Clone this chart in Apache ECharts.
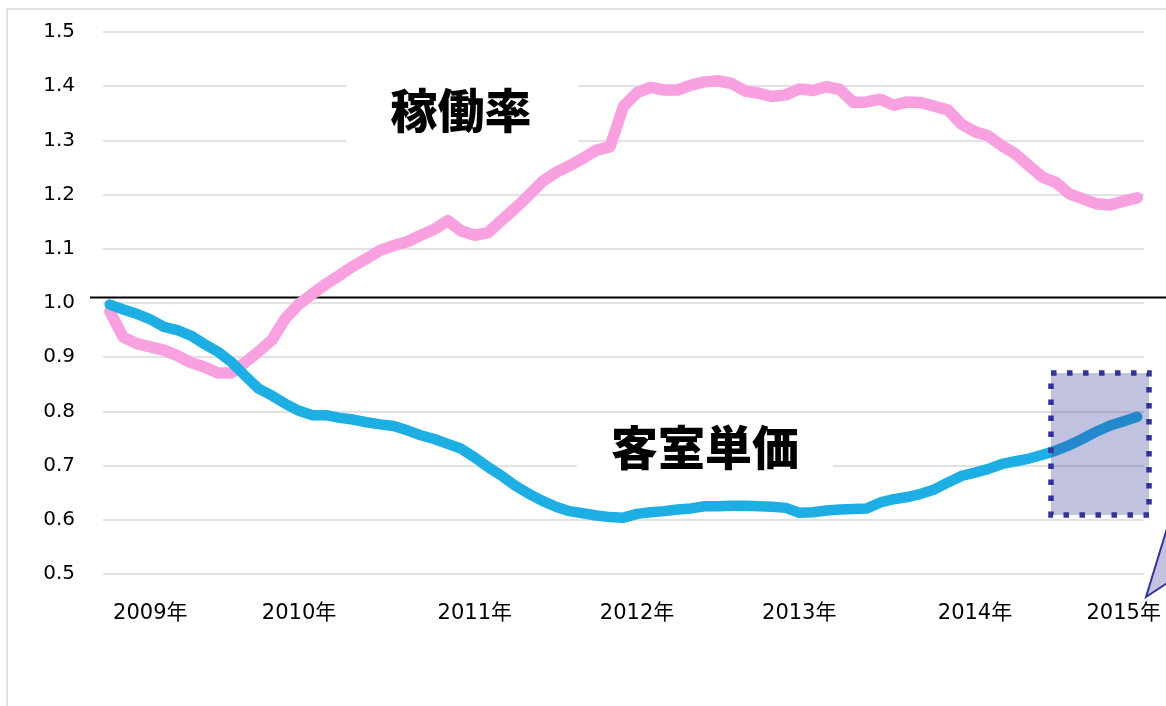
<!DOCTYPE html>
<html>
<head>
<meta charset="utf-8">
<style>
  html, body { margin: 0; padding: 0; background: #fff; }
  #chart { width: 1166px; height: 706px; }
</style>
<script src="https://cdn.jsdelivr.net/npm/echarts@6/dist/echarts.min.js"></script>
</head>
<body>
<div id="chart"></div>
<script>
// monthly categories, Oct 2008 .. Feb 2015
const months = [
  '2008/10', '2008/11', '2008/12',
  '2009/01', '2009/02', '2009/03', '2009/04', '2009/05', '2009/06', '2009/07', '2009/08', '2009/09', '2009/10', '2009/11', '2009/12',
  '2010/01', '2010/02', '2010/03', '2010/04', '2010/05', '2010/06', '2010/07', '2010/08', '2010/09', '2010/10', '2010/11', '2010/12',
  '2011/01', '2011/02', '2011/03', '2011/04', '2011/05', '2011/06', '2011/07', '2011/08', '2011/09', '2011/10', '2011/11', '2011/12',
  '2012/01', '2012/02', '2012/03', '2012/04', '2012/05', '2012/06', '2012/07', '2012/08', '2012/09', '2012/10', '2012/11', '2012/12',
  '2013/01', '2013/02', '2013/03', '2013/04', '2013/05', '2013/06', '2013/07', '2013/08', '2013/09', '2013/10', '2013/11', '2013/12',
  '2014/01', '2014/02', '2014/03', '2014/04', '2014/05', '2014/06', '2014/07', '2014/08', '2014/09', '2014/10', '2014/11', '2014/12',
  '2015/01', '2015/02'
]

// 稼働率 (occupancy index)
const occupancy = [
  0.984, 0.937, 0.925,
  0.919, 0.913, 0.903, 0.890, 0.882, 0.871, 0.871, 0.890, 0.910, 0.932, 0.972, 0.998,
  1.017, 1.035, 1.051, 1.068, 1.082, 1.097, 1.106, 1.113, 1.125, 1.136, 1.152, 1.133,
  1.125, 1.130, 1.153, 1.175, 1.199, 1.224, 1.241, 1.253, 1.267, 1.282, 1.288, 1.363,
  1.388, 1.398, 1.393, 1.393, 1.402, 1.408, 1.410, 1.405, 1.391, 1.387, 1.381, 1.384,
  1.395, 1.392, 1.399, 1.394, 1.370, 1.371, 1.376, 1.365, 1.371, 1.370, 1.363, 1.356,
  1.330, 1.316, 1.308, 1.290, 1.275, 1.253, 1.232, 1.222, 1.201, 1.192, 1.183, 1.181,
  1.188, 1.194
]

// 客室単価 (room rate index)
const roomRate = [
  0.997, 0.988, 0.980,
  0.970, 0.956, 0.950, 0.940, 0.924, 0.910, 0.891, 0.866, 0.842, 0.829, 0.814, 0.801,
  0.793, 0.793, 0.788, 0.785, 0.780, 0.776, 0.773, 0.765, 0.756, 0.749, 0.740, 0.731,
  0.715, 0.697, 0.681, 0.663, 0.648, 0.635, 0.624, 0.616, 0.612, 0.608, 0.605, 0.604,
  0.611, 0.614, 0.616, 0.619, 0.621, 0.625, 0.625, 0.626, 0.626, 0.625, 0.624, 0.622,
  0.613, 0.614, 0.617, 0.619, 0.620, 0.621, 0.632, 0.638, 0.642, 0.648, 0.656, 0.669,
  0.681, 0.687, 0.694, 0.703, 0.708, 0.713, 0.720, 0.728, 0.738, 0.750, 0.763, 0.774,
  0.782, 0.790
]

// year labels on the x axis and the month each one sits under
const yearLabels = ['2009年', '2010年', '2011年', '2012年', '2013年', '2014年', '2015年']
const yearLabelMonths = ['2009/01', '2009/12', '2011/01', '2012/01', '2013/01', '2014/02', '2015/01']

const baseLevel = 1.01

const chart = echarts.init(document.getElementById('chart'))

const option = {
  backgroundColor: '#fff',
  animation: false,
  grid: { left: 103, right: 22, top: 32, bottom: 132, outerBoundsMode: 'none', containLabel: false },
  xAxis: {
    type: 'category',
    data: months,
    boundaryGap: true,
    axisLine: { show: false },
    axisTick: { show: false },
    splitLine: { show: false },
    axisLabel: {
      interval: (i, v) => yearLabelMonths.includes(v),
      formatter: v => yearLabels[yearLabelMonths.indexOf(v)] || '',
      margin: 29,
      fontSize: 21,
      color: '#000',
      fontFamily: '"DejaVu Sans", "Noto Sans CJK JP", sans-serif'
    }
  },
  yAxis: {
    type: 'value',
    min: 0.5,
    max: 1.5,
    interval: 0.1,
    axisLine: { show: false },
    axisTick: { show: false },
    splitLine: { lineStyle: { color: '#d9d9d9', width: 1.5 } },
    axisLabel: {
      formatter: v => v.toFixed(1),
      margin: 28,
      fontSize: 20,
      color: '#000',
      fontFamily: '"DejaVu Sans", sans-serif'
    }
  },
  series: [
    {
      name: '稼働率',
      type: 'line',
      data: occupancy,
      showSymbol: false,
      z: 3,
      lineStyle: { color: '#f9a0e1', width: 11.5, cap: 'round', join: 'round' }
    },
    {
      name: '客室単価',
      type: 'line',
      data: roomRate,
      showSymbol: false,
      z: 4,
      lineStyle: { color: '#1daee3', width: 10.5, cap: 'round', join: 'round' }
    }
  ]
}
chart.setOption(option)

// annotations: frame, base line, label boxes, highlight box, callout tail
const baseY = chart.convertToPixel({ yAxisIndex: 0 }, baseLevel)

chart.setOption({
  graphic: [
    {
      type: 'rect', z: 0, silent: true,
      shape: { x: 7, y: 9, width: 1300, height: 900 },
      style: { fill: 'none', stroke: '#d9d9d9', lineWidth: 1.5 }
    },
    {
      type: 'line', z: 1, silent: true,
      shape: { x1: 90, y1: baseY, x2: 1166, y2: baseY },
      style: { stroke: '#000', lineWidth: 2 }
    },
    {
      type: 'rect', z: 1, silent: true,
      shape: { x: 346, y: 55, width: 232, height: 110 },
      style: { fill: '#fff' }
    },
    {
      type: 'text', z: 1, silent: true,
      style: {
        x: 461, y: 110, text: '稼働率', align: 'center', verticalAlign: 'middle',
        font: '900 47px "Noto Sans CJK JP", sans-serif', fill: '#000'
      }
    },
    {
      type: 'rect', z: 1, silent: true,
      shape: { x: 577, y: 422, width: 256, height: 72 },
      style: { fill: '#fff' }
    },
    {
      type: 'text', z: 1, silent: true,
      style: {
        x: 705, y: 447, text: '客室単価', align: 'center', verticalAlign: 'middle',
        font: '900 47px "Noto Sans CJK JP", sans-serif', fill: '#000'
      }
    },
    {
      type: 'rect', z: 10, silent: true,
      shape: { x: 1051, y: 373, width: 98, height: 142 },
      style: {
        fill: 'rgba(51, 51, 153, 0.3)', stroke: '#333399', lineWidth: 5.5,
        lineDash: [5.5, 10.5], lineCap: 'butt'
      }
    },
    {
      type: 'polygon', z: 10, silent: true,
      shape: { points: [[1146, 597], [1172, 512], [1172, 580]] },
      style: { fill: '#c3c3e1', stroke: '#333399', lineWidth: 2 }
    }
  ]
})

window.addEventListener('resize', () => chart.resize())
</script>
</body>
</html>
